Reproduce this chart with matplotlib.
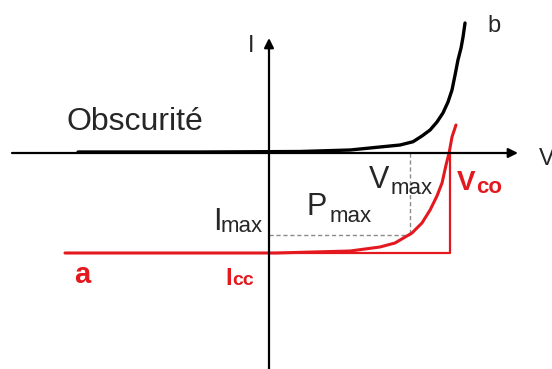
import matplotlib
matplotlib.use("Agg")
import matplotlib.pyplot as plt

plt.rcParams['font.family'] = ['Liberation Sans', 'DejaVu Sans']

# Dark characteristic (curve b): voltage / current, normalised units
V_dark = [-1.055, -0.381, 0.171, 0.448, 0.613, 0.724, 0.796, 0.845, 0.890,
          0.928, 0.961, 0.989, 1.011, 1.028, 1.044, 1.061, 1.072, 1.083]
I_dark = [0.010, 0.010, 0.015, 0.030, 0.060, 0.080, 0.113, 0.170, 0.230,
          0.310, 0.400, 0.510, 0.630, 0.780, 0.930, 1.050, 1.160, 1.300]

# Illuminated characteristic (curve a)
V_light = [-1.127, 0.039, 0.448, 0.613, 0.696, 0.790, 0.845, 0.890, 0.928,
           0.956, 0.978, 0.995, 1.011, 1.033]
I_light = [-1.00, -1.00, -0.98, -0.94, -0.90, -0.80, -0.70, -0.57, -0.43,
           -0.30, -0.12, 0.00, 0.16, 0.28]

# Characteristic points
V_co = 1.0
I_cc = -1.0
V_max = 0.779
I_max = -0.82

RED = '#e3191f'
TXT = '#262626'

W, H, DPI = 552, 369, 100
fig = plt.figure(figsize=(W / DPI, H / DPI), dpi=DPI)
ax = fig.add_axes([0, 0, 1, 1])
ax.set_axis_off()

# pixel frame of the drawing: origin at (269, 153), 181 px per V unit, 100 px per I unit
X0, Y0, SX, SY = 269, 153, 181, 100
ax.set_xlim(-X0 / SX, (W - X0) / SX)
ax.set_ylim((Y0 - H) / SY, Y0 / SY)


def at(px, py):
    return (px - X0) / SX, (Y0 - py) / SY


# axes with arrow heads
ax.annotate('', xy=at(518, 153), xytext=at(12, 153),
            arrowprops=dict(arrowstyle='-|>', lw=1.6, color='black',
                            mutation_scale=14, shrinkA=0, shrinkB=0))
ax.annotate('', xy=at(269, 38), xytext=at(269, 369),
            arrowprops=dict(arrowstyle='-|>', lw=1.6, color='black',
                            mutation_scale=14, shrinkA=0, shrinkB=0))

# maximum power point guides
ax.plot([0, V_max], [I_max, I_max], color='#8a8a8a', lw=1.0, ls=(0, (3, 2)))
ax.plot([V_max, V_max], [0, I_max], color='#8a8a8a', lw=1.0, ls=(0, (3, 2)))

# ideal rectangle Icc x Vco
ax.plot([0, V_co, V_co], [I_cc, I_cc, 0], color=RED, lw=1.6,
        solid_joinstyle='round')

# curves
ax.plot(V_dark, I_dark, color='black', lw=2.4, solid_capstyle='round',
        solid_joinstyle='round')
ax.plot(V_light, I_light, color=RED, lw=2.2, solid_capstyle='round',
        solid_joinstyle='round')

# labels
ax.text(*at(248, 52), 'I', fontsize=17, color=TXT, ha='left', va='baseline')
ax.text(*at(539, 165), 'V', fontsize=17, color=TXT, ha='left', va='baseline')
ax.text(*at(487, 32), 'b', fontsize=17, color=TXT, ha='left', va='baseline')
ax.text(*at(66, 130), 'Obscurité', fontsize=23, color=TXT, ha='left',
        va='baseline')

ax.text(*at(369, 188), 'V', fontsize=22, color=TXT, ha='left', va='baseline')
ax.text(*at(391, 194), 'max', fontsize=16, color=TXT, ha='left', va='baseline')

ax.text(*at(307, 215), 'P', fontsize=22, color=TXT, ha='left', va='baseline')
ax.text(*at(330, 222), 'max', fontsize=16, color=TXT, ha='left', va='baseline')

ax.text(*at(213, 230), 'I', fontsize=22, color=TXT, ha='left', va='baseline')
ax.text(*at(221, 232), 'max', fontsize=16, color=TXT, ha='left', va='baseline')

ax.text(*at(457, 190), 'V', fontsize=20, color=RED, ha='left', va='baseline',
        fontweight='bold')
ax.text(*at(476, 193), 'co', fontsize=16, color=RED, ha='left', va='baseline',
        fontweight='bold')

ax.text(*at(74, 283), 'a', fontsize=21, color=RED, ha='left', va='baseline',
        fontweight='bold')
ax.text(*at(225, 285), 'I', fontsize=17, color=RED, ha='left', va='baseline',
        fontweight='bold')
ax.text(*at(232, 285), 'cc', fontsize=14, color=RED, ha='left', va='baseline',
        fontweight='bold')

fig.savefig('out.png', dpi=DPI)
